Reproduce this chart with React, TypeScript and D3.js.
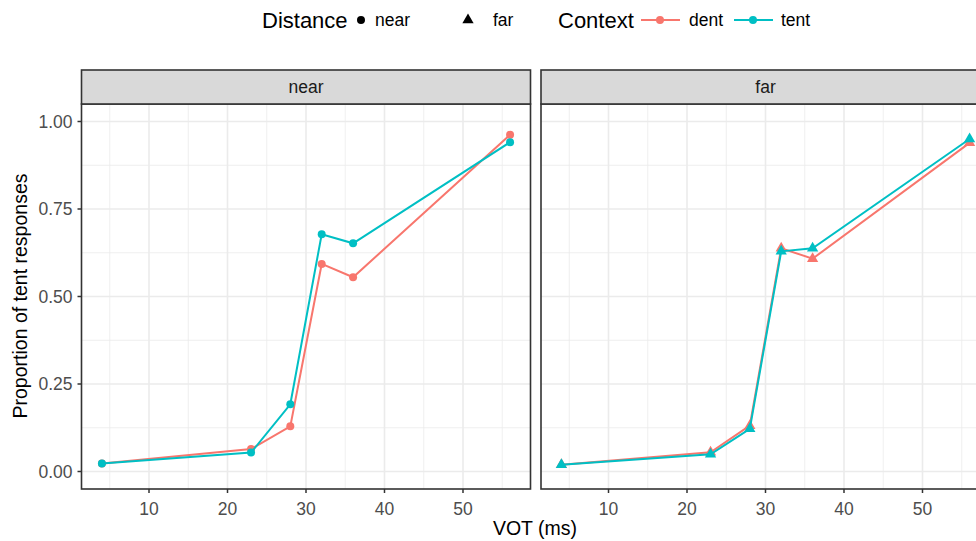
import React from 'react';
import * as d3 from 'd3';

const vot = [4, 23, 28, 32, 36, 56];
const nearDent = [0.023, 0.064, 0.129, 0.593, 0.555, 0.962];
const nearTent = [0.023, 0.054, 0.192, 0.678, 0.652, 0.941];
const farDent = [0.019, 0.055, 0.131, 0.638, 0.608, 0.939];
const farTent = [0.019, 0.049, 0.122, 0.629, 0.638, 0.950];
const xTicks = [10, 20, 30, 40, 50];
const xMinor = [5, 15, 25, 35, 45, 55];
const yTicks = [0, 0.25, 0.5, 0.75, 1];
const yMinor = [0.125, 0.375, 0.625, 0.875];

const RED = '#F8766D';
const TEAL = '#00BFC4';
const FONT = '"Liberation Sans", Arial, sans-serif';

const width = 976;
const height = 541;
const panelTop = 104;
const panelBottom = 489;
const stripTop = 70;
const panelW = 449;
const panels = [
  { name: 'near', left: 81.5, dent: nearDent, tent: nearTent, shape: d3.symbolCircle, size: 50 },
  { name: 'far', left: 541, dent: farDent, tent: farTent, shape: d3.symbolTriangle, size: 55 },
];

const y = d3.scaleLinear().domain([-0.05, 1.05]).range([panelBottom, panelTop]);

const Panel: React.FC<{ p: typeof panels[number]; showY: boolean }> = ({ p, showY }) => {
  const x = d3.scaleLinear().domain([1.4, 58.6]).range([p.left, p.left + panelW]);
  const line = d3.line<number>().x((_, i) => x(vot[i])).y(d => y(d));
  const sym = d3.symbol().type(p.shape).size(p.size)() || '';
  const series = [
    { vals: p.dent, color: RED },
    { vals: p.tent, color: TEAL },
  ];
  return (
    <g>
      <rect x={p.left} y={panelTop} width={panelW} height={panelBottom - panelTop} fill="white" />
      {yMinor.map(t => (
        <line key={'ym' + t} x1={p.left} x2={p.left + panelW} y1={y(t)} y2={y(t)} stroke="#EBEBEB" strokeWidth={0.8} />
      ))}
      {xMinor.map(t => (
        <line key={'xm' + t} x1={x(t)} x2={x(t)} y1={panelTop} y2={panelBottom} stroke="#EBEBEB" strokeWidth={0.8} />
      ))}
      {yTicks.map(t => (
        <line key={'y' + t} x1={p.left} x2={p.left + panelW} y1={y(t)} y2={y(t)} stroke="#EBEBEB" strokeWidth={1.6} />
      ))}
      {xTicks.map(t => (
        <line key={'x' + t} x1={x(t)} x2={x(t)} y1={panelTop} y2={panelBottom} stroke="#EBEBEB" strokeWidth={1.6} />
      ))}
      {series.map((s, k) => (
        <g key={k}>
          <path d={line(s.vals) || ''} fill="none" stroke={s.color} strokeWidth={2} />
          {s.vals.map((v, i) => (
            <path key={i} d={sym} transform={`translate(${x(vot[i])},${y(v)})`} fill={s.color} />
          ))}
        </g>
      ))}
      <rect x={p.left} y={panelTop} width={panelW} height={panelBottom - panelTop} fill="none" stroke="#333333" strokeWidth={1.6} />
      <rect x={p.left} y={stripTop} width={panelW} height={panelTop - stripTop} fill="#D9D9D9" stroke="#333333" strokeWidth={1.6} />
      <text x={p.left + panelW / 2} y={(stripTop + panelTop) / 2} dy="0.35em" textAnchor="middle" fontSize={17.5} fill="#1A1A1A">{p.name}</text>
      {xTicks.map(t => (
        <g key={'xt' + t}>
          <line x1={x(t)} x2={x(t)} y1={panelBottom} y2={panelBottom + 4} stroke="#333333" strokeWidth={1.5} />
          <text x={x(t)} y={panelBottom + 20} dy="0.35em" textAnchor="middle" fontSize={17.5} fill="#4D4D4D">{t}</text>
        </g>
      ))}
      {showY && yTicks.map(t => (
        <g key={'yt' + t}>
          <line x1={p.left - 4} x2={p.left} y1={y(t)} y2={y(t)} stroke="#333333" strokeWidth={1.5} />
          <text x={p.left - 9} y={y(t)} dy="0.35em" textAnchor="end" fontSize={17.5} fill="#4D4D4D">{t.toFixed(2)}</text>
        </g>
      ))}
    </g>
  );
};

export default function App() {
  const circle = d3.symbol().type(d3.symbolCircle).size(50)() || '';
  const tri = d3.symbol().type(d3.symbolTriangle).size(55)() || '';
  return (
    <svg width={width} height={height} style={{ position: 'absolute', left: 0, top: 0, fontFamily: FONT }}>
      <rect width={width} height={height} fill="white" />
      {panels.map((p, i) => <Panel key={p.name} p={p} showY={i === 0} />)}
      <text x={535} y={528} dy="0.35em" textAnchor="middle" fontSize={19.5} fill="black">VOT (ms)</text>
      <text transform="translate(20,296) rotate(-90)" dy="0.35em" textAnchor="middle" fontSize={19.5} fill="black">Proportion of tent responses</text>
      {/* legend */}
      <g fontSize={17.5} fill="black">
        <text x={262} y={20} dy="0.35em" fontSize={22}>Distance</text>
        <path d={circle} transform="translate(361,20)" fill="black" />
        <text x={375} y={20} dy="0.35em">near</text>
        <path d={tri} transform="translate(468,20)" fill="black" />
        <text x={493} y={20} dy="0.35em">far</text>
        <text x={558} y={20} dy="0.35em" fontSize={22}>Context</text>
        <line x1={641} x2={680} y1={20} y2={20} stroke={RED} strokeWidth={2} />
        <path d={circle} transform="translate(660,20)" fill={RED} />
        <text x={689} y={20} dy="0.35em">dent</text>
        <line x1={734} x2={773} y1={20} y2={20} stroke={TEAL} strokeWidth={2} />
        <path d={circle} transform="translate(753,20)" fill={TEAL} />
        <text x={781} y={20} dy="0.35em">tent</text>
      </g>
    </svg>
  );
}
